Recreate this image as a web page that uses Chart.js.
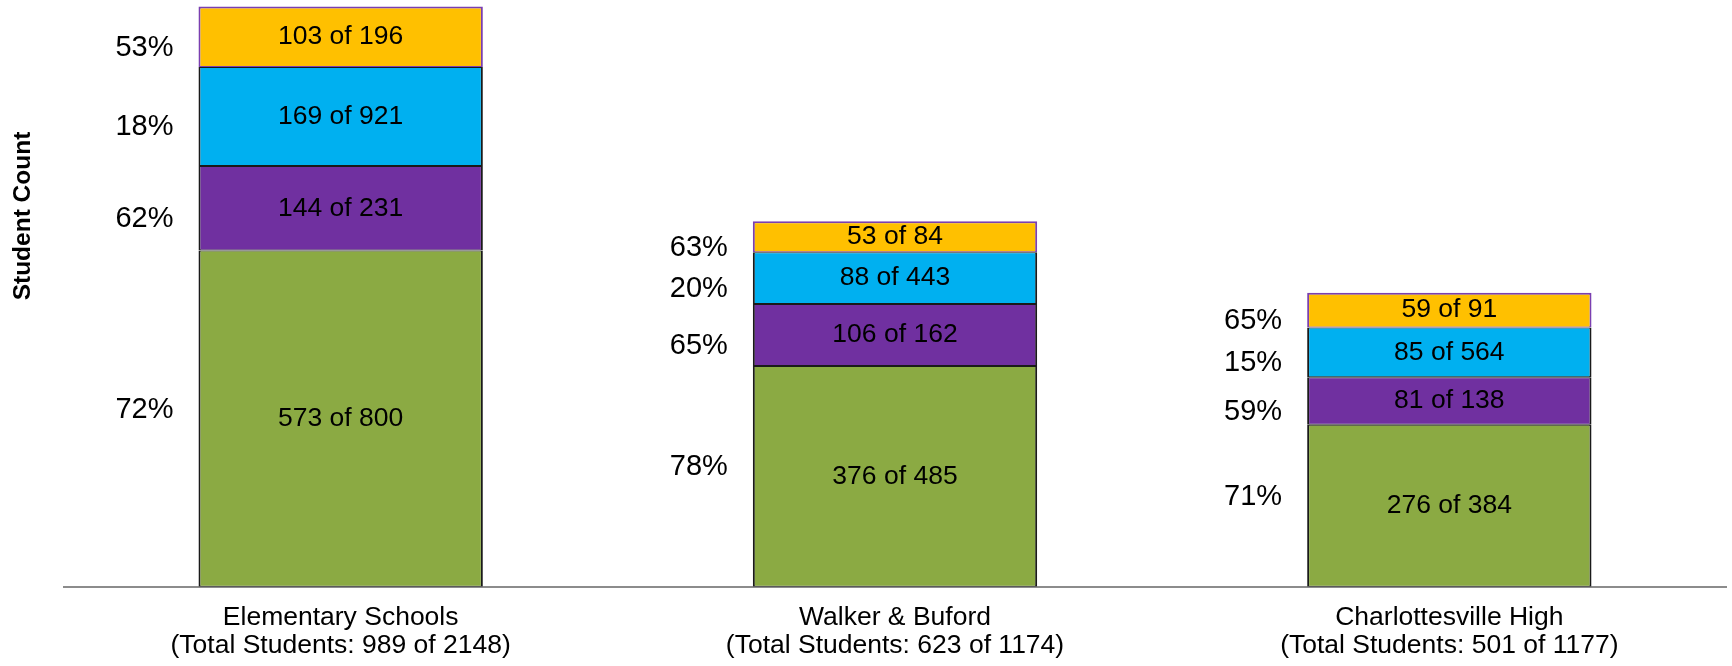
<!DOCTYPE html>
<html>
<head>
<meta charset="utf-8">
<script src="https://cdn.jsdelivr.net/npm/chart.js@4"></script>
<style>
  html, body { margin: 0; padding: 0; background: #fff; }
  #wrap { width: 1732px; height: 666px; }
</style>
</head>
<body>
<div id="wrap"><canvas id="chart1" width="1732" height="666"></canvas></div>
<script>
// schools
const schools = ['Elementary Schools', 'Walker & Buford', 'Charlottesville High'];

// segments, bottom to top: count met / group size / percent shown
const greenMet = [573, 376, 276];
const greenAll = [800, 485, 384];
const greenPct = [72, 78, 71];

const purpleMet = [144, 106, 81];
const purpleAll = [231, 162, 138];
const purplePct = [62, 65, 59];

const blueMet = [169, 88, 85];
const blueAll = [921, 443, 564];
const bluePct = [18, 20, 15];

const goldMet = [103, 53, 59];
const goldAll = [196, 84, 91];
const goldPct = [53, 63, 65];

const FONT = '"Liberation Sans", Arial, sans-serif';

// totals for the category labels
const totalMet = schools.map((s, i) => greenMet[i] + purpleMet[i] + blueMet[i] + goldMet[i]);
const totalAll = schools.map((s, i) => greenAll[i] + purpleAll[i] + blueAll[i] + goldAll[i]);
const labels = schools.map((s, i) => [s, `(Total Students: ${totalMet[i]} of ${totalAll[i]})`]);

const allCounts = [greenAll, purpleAll, blueAll, goldAll];
const pcts = [greenPct, purplePct, bluePct, goldPct];

function segment(data, color, edge, topWidth) {
  return {
    data: data,
    backgroundColor: color,
    borderColor: edge,
    borderWidth: { left: 2, right: 2, top: topWidth, bottom: 1 },
    borderSkipped: false,
    categoryPercentage: 1,
    barPercentage: 0.513
  };
}

// text inside the bars and the percentages on their left
const segLabels = {
  id: 'segLabels',
  afterDatasetsDraw(chart) {
    const ctx = chart.ctx;
    ctx.save();
    ctx.fillStyle = '#000';
    ctx.textBaseline = 'middle';
    chart.data.datasets.forEach((ds, di) => {
      const meta = chart.getDatasetMeta(di);
      meta.data.forEach((bar, i) => {
        const p = bar.getProps(['x', 'y', 'base', 'width'], true);
        const cy = (p.y + p.base) / 2;
        ctx.textAlign = 'center';
        ctx.font = '26.5px ' + FONT;
        ctx.fillText(ds.data[i] + ' of ' + allCounts[di][i], p.x, cy);
        // percentages sit a little low on the upper segments, a little high on the bottom one
        ctx.textAlign = 'right';
        ctx.font = '29px ' + FONT;
        ctx.fillText(pcts[di][i] + '%', p.x - p.width / 2 - 25, cy + (di === 0 ? -9 : 11));
      });
    });
    // y axis title
    ctx.translate(23.5, 216);
    ctx.rotate(-Math.PI / 2);
    ctx.textAlign = 'center';
    ctx.font = 'bold 24.5px ' + FONT;
    ctx.fillText('Student Count', 0, 0);
    ctx.restore();
  }
};

const ctx = document.getElementById('chart1').getContext('2d');
const chart = new Chart(ctx, {
  type: 'bar',
  data: {
    labels: labels,
    datasets: [
      segment(greenMet, '#8BAA43', '#1a1a1a', 1),
      segment(purpleMet, '#7030A0', '#1a1a1a', 1),
      segment(blueMet, '#00B0F0', '#1a1a1a', 1),
      segment(goldMet, '#FFC000', '#7A3FB0', 2)
    ]
  },
  options: {
    responsive: false,
    animation: false,
    layout: { padding: { left: 63.5, right: 5.5, top: 0, bottom: -10.3 } },
    plugins: {
      legend: { display: false },
      tooltip: { enabled: false }
    },
    scales: {
      x: {
        stacked: true,
        grid: { display: false, drawTicks: false },
        border: { display: true, color: '#8c8c8c', width: 2 },
        ticks: {
          color: '#000',
          padding: 16.8,
          maxRotation: 0,
          autoSkip: false,
          font: { family: FONT, size: 26.5, lineHeight: 28 / 26.5 }
        }
      },
      y: {
        stacked: true,
        display: false,
        min: 0,
        max: 1000
      }
    }
  },
  plugins: [segLabels]
});
</script>
</body>
</html>
